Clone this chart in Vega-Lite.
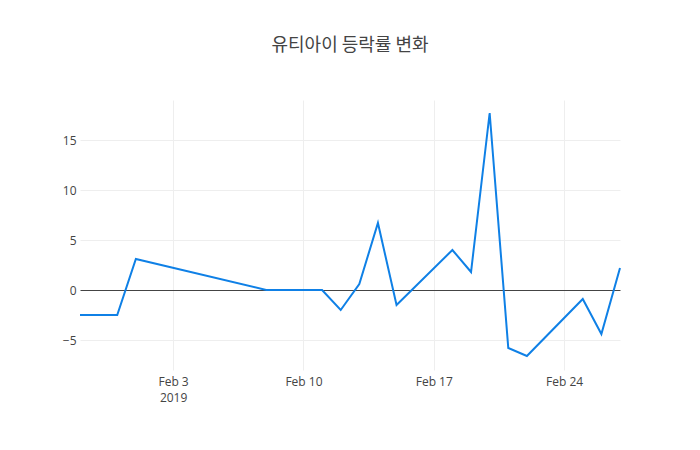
{
  "$schema": "https://vega.github.io/schema/vega-lite/v6.json",
  "width": 540,
  "height": 270,
  "padding": {"left": 80, "top": 100, "right": 80, "bottom": 80},
  "autosize": {"type": "none"},
  "background": "white",
  "title": {
    "text": "유티아이 등락률 변화",
    "font": "Noto Sans CJK KR",
    "fontSize": 18,
    "fontWeight": "normal",
    "color": "#444444",
    "anchor": "middle",
    "offset": 45
  },
  "config": {
    "view": {"stroke": null},
    "axis": {
      "labelFont": "Open Sans",
      "labelFontSize": 12,
      "labelColor": "#444444",
      "gridColor": "#eeeeee",
      "gridWidth": 1,
      "domain": false,
      "ticks": false
    }
  },
  "data": {
    "values": [
      {"date": "2019-01-29", "rate": -2.5},
      {"date": "2019-01-30", "rate": -2.5},
      {"date": "2019-01-31", "rate": -2.5},
      {"date": "2019-02-01", "rate": 3.1},
      {"date": "2019-02-08", "rate": 0.0},
      {"date": "2019-02-11", "rate": 0.0},
      {"date": "2019-02-12", "rate": -2.0},
      {"date": "2019-02-13", "rate": 0.6},
      {"date": "2019-02-14", "rate": 6.7},
      {"date": "2019-02-15", "rate": -1.5},
      {"date": "2019-02-18", "rate": 4.0},
      {"date": "2019-02-19", "rate": 1.8},
      {"date": "2019-02-20", "rate": 17.7},
      {"date": "2019-02-21", "rate": -5.8},
      {"date": "2019-02-22", "rate": -6.6},
      {"date": "2019-02-25", "rate": -0.9},
      {"date": "2019-02-26", "rate": -4.4},
      {"date": "2019-02-27", "rate": 2.2}
    ]
  },
  "mark": {"type": "line", "color": "#0f80e6", "strokeWidth": 2},
  "encoding": {
    "x": {
      "field": "date",
      "type": "temporal",
      "timeUnit": "yearmonthdate",
      "scale": {"domain": [{"year": 2019, "month": 1, "date": 29}, {"year": 2019, "month": 2, "date": 27}]},
      "axis": {
        "title": null,
        "values": [{"year": 2019, "month": 2, "date": 3}, {"year": 2019, "month": 2, "date": 10}, {"year": 2019, "month": 2, "date": 17}, {"year": 2019, "month": 2, "date": 24}],
        "labelExpr": "month(datum.value) == 1 && date(datum.value) == 3 ? ['Feb 3', '2019'] : timeFormat(datum.value, '%b %-d')",
        "labelPadding": 6,
        "labelLineHeight": 16
      }
    },
    "y": {
      "field": "rate",
      "type": "quantitative",
      "scale": {"domain": [-8, 19], "nice": false, "zero": false},
      "axis": {
        "title": null,
        "values": [-5, 0, 5, 10, 15],
        "labelPadding": 4,
        "labelExpr": "replace(datum.label, '-', '−')",
        "gridColor": {"condition": {"test": "datum.value === 0", "value": "#444444"}, "value": "#eeeeee"}
      }
    }
  }
}
